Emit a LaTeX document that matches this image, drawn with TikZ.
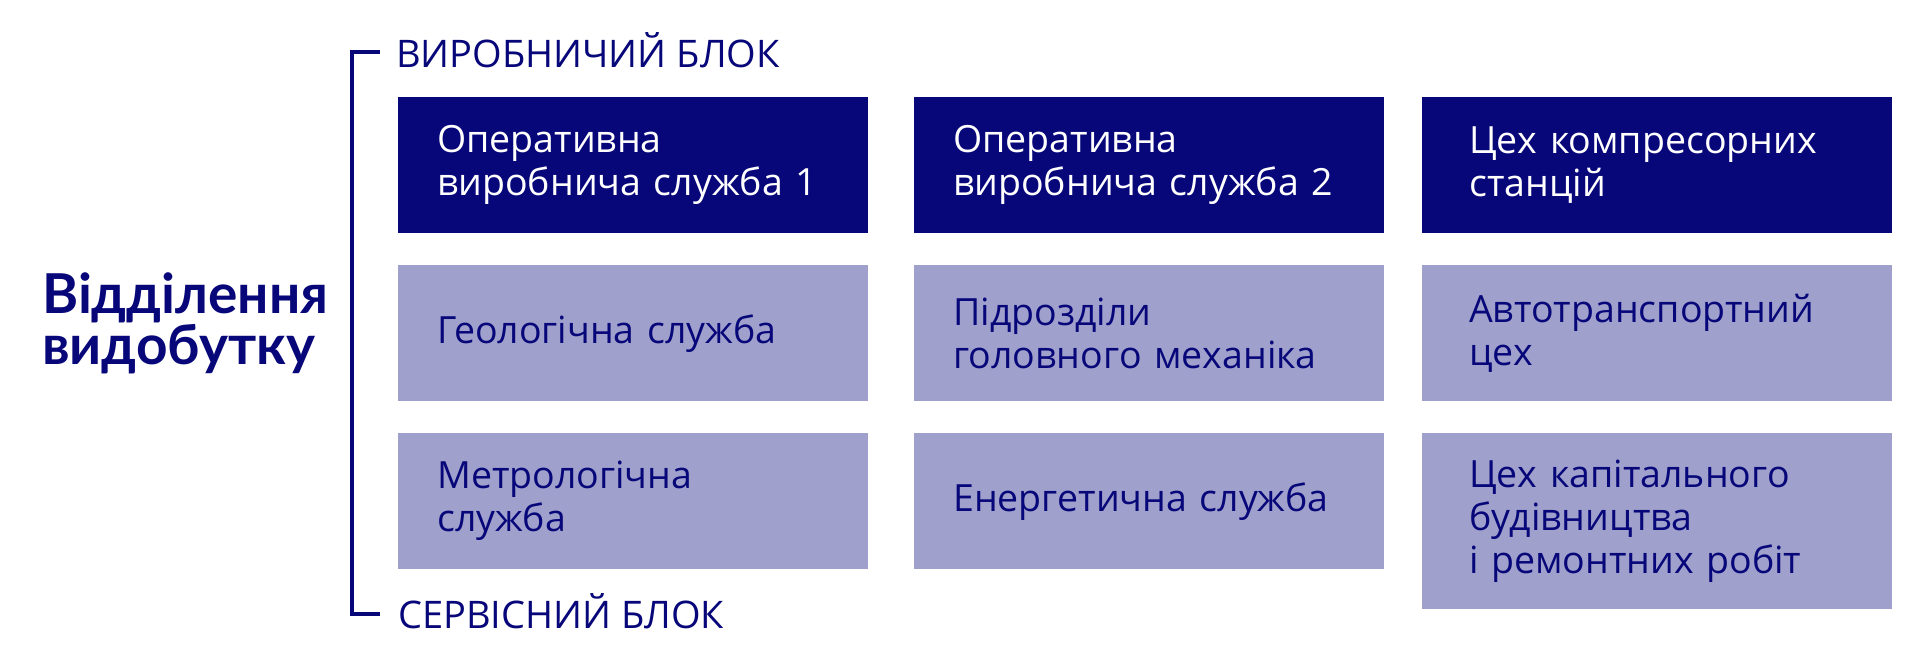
\documentclass[tikz,border=0pt]{standalone}
\usepackage{fontspec}
\setmainfont{Open Sans}
\newfontfamily\titlefont{Lato}
\definecolor{navy}{RGB}{7,7,122}
\definecolor{lav}{RGB}{159,160,203}
\begin{document}
\begin{tikzpicture}[x=1pt,y=-1pt,
  box/.style={rectangle, anchor=north west, minimum width=470pt, minimum height=136pt,
    text width=#1, inner ysep=0pt, align=left, font=\fontsize{37.5}{43}\selectfont},
  darkbox/.style={box=#1, fill=navy, text=white},
  lightbox/.style={box=#1, fill=lav, text=navy},
  blocklabel/.style={anchor=base west, inner sep=0pt, text=navy, font=\fontsize{38}{42}\selectfont},
  bracket/.style={draw=navy, line width=4.5pt}]
\useasboundingbox (0,0) rectangle (1920,661);
% title
\node[anchor=base west, inner sep=0pt, text=navy, align=left,
  font=\titlefont\bfseries\fontsize{55}{46}\selectfont] (title) at (42,364) {Відділення\\видобутку};
% bracket
\coordinate (bt) at (352,52);
\coordinate (bb) at (352,614);
\coordinate (btt) at (380,52);
\coordinate (bbt) at (380,614);
\draw[bracket] (btt) -- (bt) -- (bb) -- (bbt);
\node[blocklabel] (top) at (396,67) {ВИРОБНИЧИЙ БЛОК};
\node[blocklabel] (bot) at (398,628) {СЕРВІСНИЙ БЛОК};
% row 1
\node[darkbox=392pt, inner xsep=39pt] (a1) at (398,97) {Оперативна\\виробнича служба 1};
\node[darkbox=392pt, inner xsep=39pt] (a2) at (914,97) {Оперативна\\виробнича служба 2};
\node[darkbox=376pt, inner xsep=47pt] (a3) at (1422,97) {Цех компресорних\\станцій};
% row 2
\node[lightbox=392pt, inner xsep=39pt] (b1) at (398,265) {Геологічна служба};
\node[lightbox=392pt, inner xsep=39pt] (b2) at (914,265) {Підрозділи\\головного механіка};
\node[lightbox=376pt, inner xsep=47pt] (b3) at (1422,265) {Автотранспортний\\цех};
% row 3
\node[lightbox=392pt, inner xsep=39pt] (c1) at (398,433) {Метрологічна\\служба};
\node[lightbox=392pt, inner xsep=39pt] (c2) at (914,433) {Енергетична служба};
\node[lightbox=376pt, inner xsep=47pt, minimum height=176pt] (c3) at (1422,433) {Цех капітального\\будівництва\\і ремонтних робіт};
\end{tikzpicture}
\end{document}
